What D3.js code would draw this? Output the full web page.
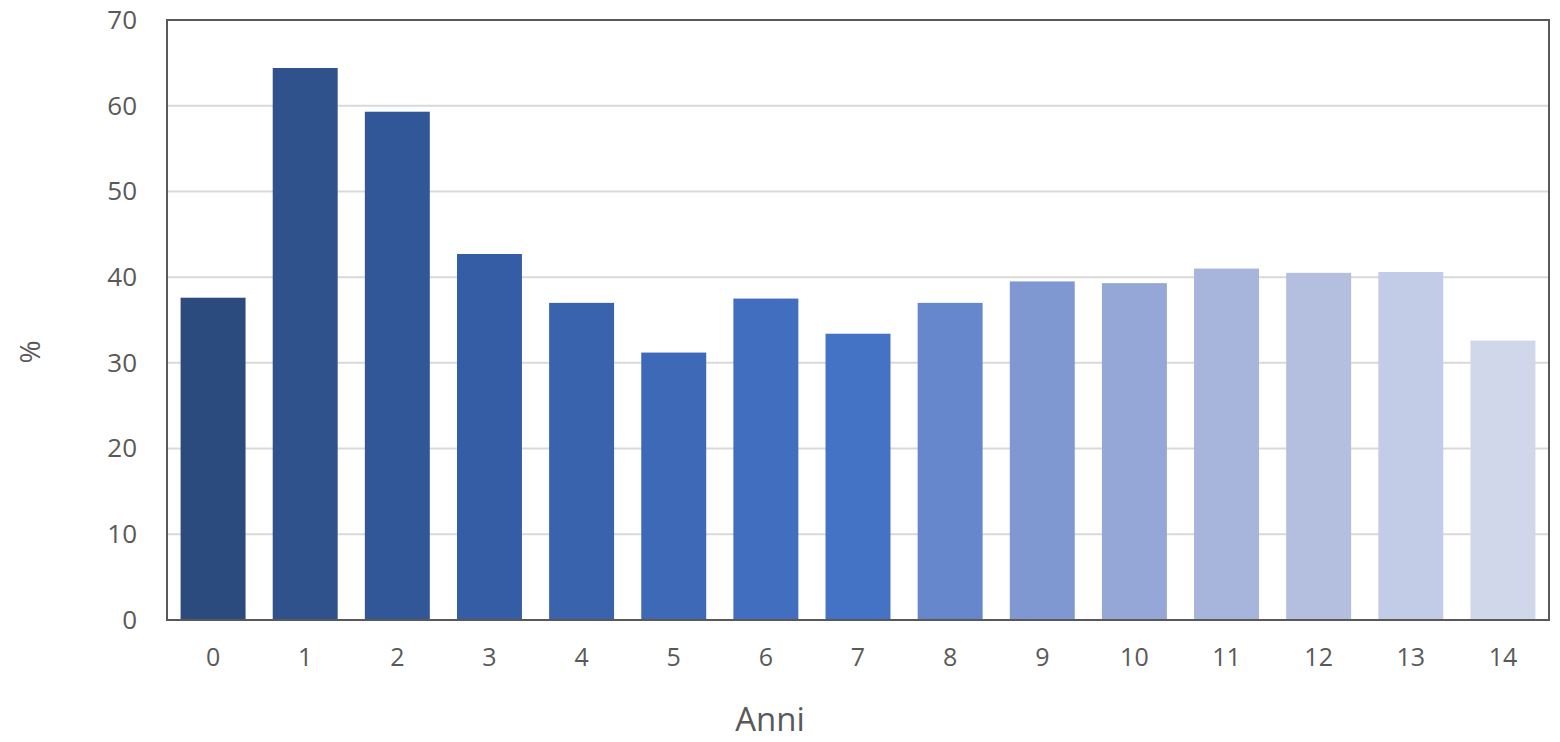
<!DOCTYPE html>
<html><head><meta charset="utf-8">
<script src="https://cdn.jsdelivr.net/npm/d3@7"></script>
<style>body{margin:0;background:#fff}svg{display:block}text{font-family:"Open Sans",sans-serif;fill:#595959}</style>
</head><body><svg id="c" width="1560" height="742"></svg>
<script>
const categories = ["0","1","2","3","4","5","6","7","8","9","10","11","12","13","14"];
const values = [37.6, 64.4, 59.3, 42.7, 37.0, 31.2, 37.5, 33.4, 37.0, 39.5, 39.3, 41.0, 40.5, 40.6, 32.6];
const colors = ["#2B4A7E","#2F518C","#315798","#345DA6","#3963AD","#3D69B6","#416EBF","#4472C4","#6787CC","#7F98D1","#95A7D6","#A7B4DB","#B4BFE0","#C3CCE6","#D1D7EA"];
const yTicks = [0,10,20,30,40,50,60,70];

const svg = d3.select("#c");
const L=167, R=1549, T=20, B=620;
const x = d3.scaleBand().domain(categories).range([L,R]).paddingInner(0.295).paddingOuter(0.1475);
const y = d3.scaleLinear().domain([0,70]).range([B,T]);

svg.append("g").selectAll("line").data(yTicks.filter(d=>d>0&&d<70)).join("line")
  .attr("x1",L).attr("x2",R).attr("y1",d=>y(d)).attr("y2",d=>y(d))
  .attr("stroke","#d9d9d9").attr("stroke-width",2);

svg.append("g").selectAll("rect").data(values).join("rect")
  .attr("x",(d,i)=>x(categories[i])).attr("width",x.bandwidth())
  .attr("y",d=>y(d)).attr("height",d=>B-y(d))
  .attr("fill",(d,i)=>colors[i]);

svg.append("rect").attr("x",L).attr("y",T).attr("width",R-L).attr("height",B-T)
  .attr("fill","none").attr("stroke","#595959").attr("stroke-width",2);

const ya = svg.append("g").attr("transform",`translate(${L},0)`)
  .call(d3.axisLeft(y).tickValues(yTicks).tickSize(0).tickPadding(30));
ya.select(".domain").remove();
ya.selectAll("text").attr("font-size",26).attr("fill","#595959").attr("font-family","Open Sans");

const xa = svg.append("g").attr("transform",`translate(0,${B})`)
  .call(d3.axisBottom(x).tickSize(0).tickPadding(28));
xa.select(".domain").remove();
xa.selectAll("text").attr("font-size",25).attr("fill","#595959").attr("font-family","Open Sans");

svg.append("text").attr("x",770).attr("y",731).attr("text-anchor","middle")
  .attr("font-size",33).text("Anni");
svg.append("text").attr("transform","translate(40,352) rotate(-90)").attr("text-anchor","middle")
  .attr("font-size",28).text("%");
</script></body></html>
